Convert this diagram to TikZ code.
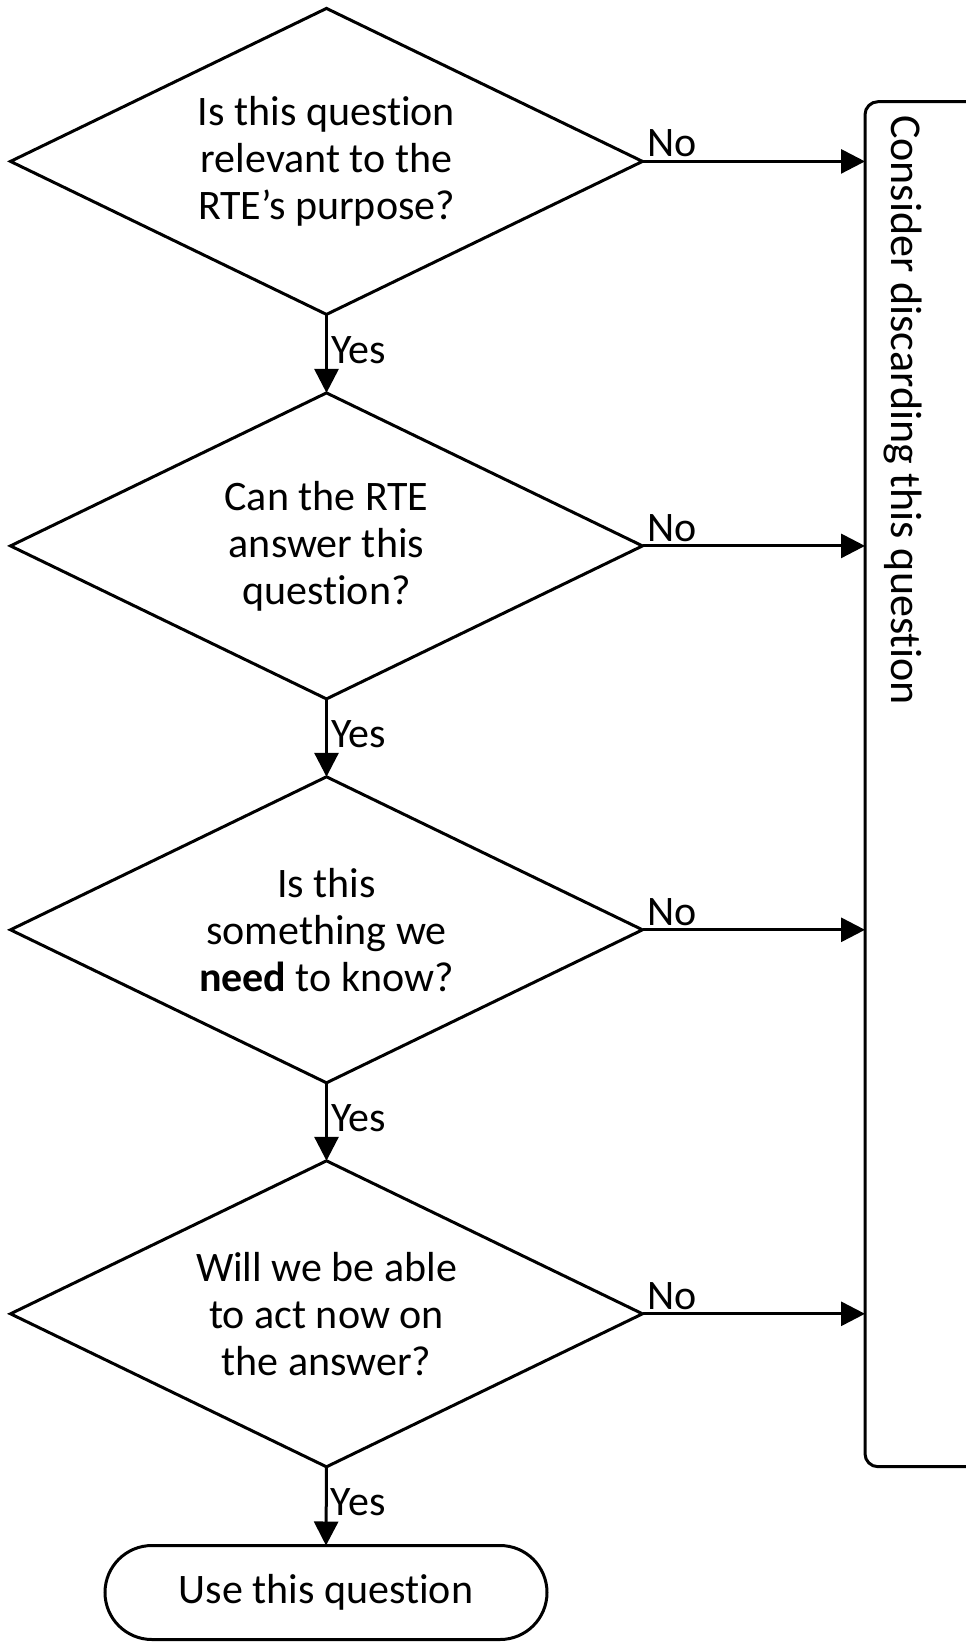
\documentclass[tikz,border=0pt]{standalone}
\usepackage{fontspec}
\setmainfont{Carlito}[Ligatures={NoCommon}]
\usetikzlibrary{shapes.geometric,arrows.meta}
\begin{document}
\begin{tikzpicture}[x=1pt,y=-1pt,
  txt/.style={font=\fontsize{42}{47}\selectfont},
  decision/.style={draw, shape=diamond, aspect=2.07, minimum width=632pt, minimum height=306pt,
    inner sep=0pt, outer sep=0pt, align=center, line width=3pt, txt},
  terminal/.style={draw, rectangle, rounded corners=47pt, minimum width=442pt, minimum height=94pt,
    inner sep=0pt, outer sep=0pt, line width=3pt, txt},
  discardbox/.style={draw, rectangle, rounded corners=13pt, minimum width=135pt, minimum height=1365pt,
    inner sep=0pt, outer sep=0pt, line width=3pt},
  flow/.style={line width=3pt, -{Triangle[length=24pt,width=24pt]}},
  yeslbl/.style={right, inner sep=3pt, pos=0.45, txt},
  nolbl/.style={anchor=south west, inner sep=3pt, pos=0, txt}
]
\useasboundingbox (0,0) rectangle (966,1642);
\clip (0,0) rectangle (966,1642);

\node[decision] (d1) at (326.5,161.4) {Is this question\\relevant to the\\RTE’s purpose?};
\node[decision] (d2) at (326.5,545.9) {Can the RTE\\answer this\\question?};
\node[decision] (d3) at (326.5,929.8) {Is this\\something we\\\textbf{need} to know?};
\node[decision] (d4) at (326.5,1313.8) {Will we be able\\to act now on\\the answer?};
\node[terminal] (use) at (326,1592.5) {Use this question};

\node[discardbox] (disc) at (932.5,784.2) {};
\node[rotate=-90, anchor=west, inner sep=0pt, font=\fontsize{44}{47}\selectfont] (disctext) at (903,115) {Consider discarding this question};

\draw[flow] (d1.south) -- node[yeslbl]{Yes} (d2.north);
\draw[flow] (d2.south) -- node[yeslbl]{Yes} (d3.north);
\draw[flow] (d3.south) -- node[yeslbl]{Yes} (d4.north);
\draw[flow] (d4.south) -- node[yeslbl]{Yes} (use.north);

\draw[flow] (d1.east) -- node[nolbl]{No} (d1.east -| disc.west);
\draw[flow] (d2.east) -- node[nolbl]{No} (d2.east -| disc.west);
\draw[flow] (d3.east) -- node[nolbl]{No} (d3.east -| disc.west);
\draw[flow] (d4.east) -- node[nolbl]{No} (d4.east -| disc.west);
\end{tikzpicture}
\end{document}
